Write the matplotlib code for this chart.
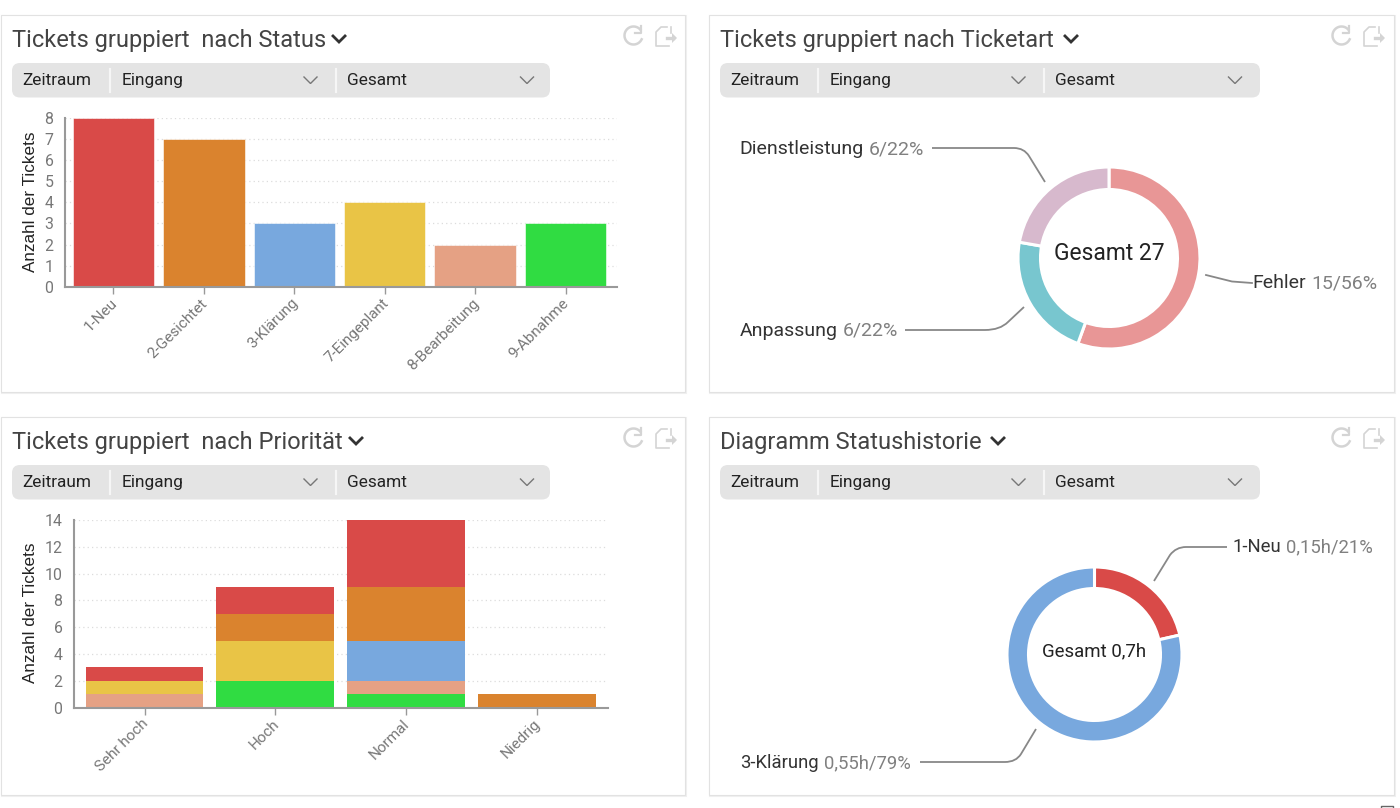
#!/usr/bin/env python3
"""Ticket dashboard: two bar charts and two donuts on white cards"""

import matplotlib
matplotlib.use('Agg')
import matplotlib.pyplot as plt
from matplotlib.patches import Rectangle, FancyBboxPatch, PathPatch
from matplotlib.path import Path
from matplotlib.transforms import ScaledTranslation
import numpy as np

plt.rcParams['font.family'] = ['Roboto', 'DejaVu Sans']

RED = '#D94A48'
ORANGE = '#DA832E'
BLUE = '#78A8DE'
YELLOW = '#E9C446'
PEACH = '#E5A184'
GREEN = '#30DC42'

# Status chart
status_labels = ['1-Neu', '2-Gesichtet', '3-Klärung', '7-Eingeplant', '8-Bearbeitung', '9-Abnahme']
status_values = [8, 7, 3, 4, 2, 3]
status_colors = [RED, ORANGE, BLUE, YELLOW, PEACH, GREEN]

# Priority chart, stacks from the bottom up
prio_labels = ['Sehr hoch', 'Hoch', 'Normal', 'Niedrig']
prio_green = [0, 2, 1, 0]
prio_peach = [1, 0, 1, 0]
prio_blue = [0, 0, 3, 0]
prio_yellow = [1, 3, 0, 0]
prio_orange = [0, 2, 4, 1]
prio_red = [1, 2, 5, 0]

# Donuts
art_values = [15, 6, 6]
art_colors = ['#E89696', '#78C6CF', '#D7B9CD']
history_values = [0.15, 0.55]
history_colors = [RED, BLUE]

W, H = 1400, 808
ICON = '#D4D4D4'
fig = plt.figure(figsize=(W / 100, H / 100), dpi=100, facecolor='white')

# overlay in pixel coordinates for the cards and texts
bg = fig.add_axes([0, 0, 1, 1], zorder=0)
bg.set_xlim(0, W)
bg.set_ylim(H, 0)
bg.axis('off')


def px_axes(left, top, right, bottom):
    return fig.add_axes([left / W, 1 - bottom / H, (right - left) / W, (bottom - top) / H],
                        zorder=1, facecolor='none')


def draw_icons(x, y):
    # refresh arrow
    t = np.radians(np.linspace(40, 335, 40))
    bg.plot(x + 10.5 + 9 * np.cos(t), y + 10.5 - 9 * np.sin(t), color=ICON, lw=1.8)
    bg.plot([x + 18, x + 18, x + 11.5], [y + 1, y + 8, y + 8], color=ICON, lw=1.6)
    # export page
    dx = x + 33
    bg.plot([dx + 11, dx + 5, dx, dx, dx + 13], [y + 2, y + 2, y + 7, y + 21, y + 21], color=ICON, lw=1.2)
    bg.plot([dx + 15, dx + 15], [y + 2, y + 8], color=ICON, lw=1.2)
    bg.plot([dx + 11, dx + 17], [y + 13, y + 13], color=ICON, lw=2.4)
    bg.fill([dx + 16, dx + 21, dx + 16], [y + 8, y + 13, y + 18], color=ICON, lw=0)


def chevron(x, y, half, drop, color, lw):
    bg.plot([x - half, x, x + half], [y - drop / 2, y + drop / 2, y - drop / 2], color=color, lw=lw,
            solid_capstyle='butt', solid_joinstyle='miter')


def draw_card(x0, y0, x1, y1, title, chevron_x, bar_width=538):
    bg.add_patch(Rectangle((x0 + 1, y0 + 1), x1 - x0, y1 - y0, fc='#E4E4E4', ec='#F0F0F0', lw=1.5))
    bg.add_patch(Rectangle((x0, y0), x1 - x0, y1 - y0, fc='white', ec='#E2E2E2', lw=0.8))
    bg.text(x0 + 11, y0 + 25, title, fontsize=17.0, color='#444444', va='center', ha='left')
    chevron(chevron_x, y0 + 23.5, 7, 7, '#333333', 2)
    draw_icons(x0 + 622, y0 + 10)
    # filter bar
    bar_y = y0 + 48
    bg.add_patch(FancyBboxPatch((x0 + 11, bar_y), bar_width, 34.5, boxstyle='round,pad=0,rounding_size=8',
                                fc='#E4E4E4', ec='none'))
    for sep in (109, 335):
        bg.plot([x0 + sep, x0 + sep], [bar_y + 6, bar_y + 29], color='#F6F6F6', lw=1.6)
    for label, tx in (('Zeitraum', 21), ('Eingang', 121), ('Gesamt', 346)):
        bg.text(x0 + tx, bar_y + 17.5, label, fontsize=12.4, color='#222222', va='center', ha='left')
    chevron(x0 + 309.5, bar_y + 17, 7, 7, '#777777', 1)
    chevron(x0 + 526, bar_y + 17, 7, 7, '#777777', 1)


def bar_axes(ax, labels, ymax, ystep, xlim):
    ax.set_xlim(*xlim)
    ax.set_ylim(0, ymax)
    ax.set_yticks(range(0, ymax + 1, ystep))
    ax.set_xticks(range(len(labels)))
    ax.set_xticklabels(labels, rotation=45, ha='right', va='top', rotation_mode='anchor',
                       fontsize=11, color='#777777')
    ax.tick_params(axis='y', length=0, pad=8, labelsize=11.4, labelcolor='#777777')
    ax.tick_params(axis='x', length=5, width=1, color='#999999', pad=1.5)
    # has to come after tick_params, which resets the label transform
    nudge = ScaledTranslation(-3.5 / 100, 0, fig.dpi_scale_trans)
    for label in ax.get_xticklabels():
        label.set_transform(label.get_transform() + nudge)
    ax.grid(axis='y', linestyle=(0, (1, 2.5)), color='#DCDCDC', linewidth=0.9)
    ax.set_axisbelow(True)
    for side in ('top', 'right'):
        ax.spines[side].set_visible(False)
    for side in ('left', 'bottom'):
        ax.spines[side].set_color('#999999')
        ax.spines[side].set_linewidth(1.5)


def leader(points):
    codes = [Path.MOVETO, Path.LINETO, Path.CURVE3, Path.CURVE3, Path.LINETO]
    bg.add_patch(PathPatch(Path(points, codes), fc='none', ec='#888888', lw=1.3, capstyle='butt'))


def pie_label(x, y, name, value, size=14):
    first = bg.text(x, y, name, fontsize=size, color='#333333', va='center', ha='left')
    box = first.get_window_extent(fig.canvas.get_renderer())
    bg.text(x + box.width + 5, y, value, fontsize=size, color='#808080', va='center', ha='left')


def donut(cx, cy, r_out, r_in, values, colors):
    side = r_out * 1.1
    ax = px_axes(cx - side, cy - side, cx + side, cy + side)
    ax.pie(values, colors=colors, startangle=90, counterclock=False, radius=r_out,
           wedgeprops=dict(width=r_out - r_in, edgecolor='white', linewidth=2.2))
    ax.set_xlim(-side, side)
    ax.set_ylim(-side, side)
    return ax


draw_card(1, 15, 685, 392, 'Tickets gruppiert  nach Status', 339)
draw_card(709, 15, 1394, 392, 'Tickets gruppiert nach Ticketart', 1071, bar_width=540)
draw_card(1, 417, 685, 795, 'Tickets gruppiert  nach Priorität', 356)
draw_card(709, 417, 1394, 795, 'Diagramm Statushistorie', 998, bar_width=540)

# top left, bars by status
ax1 = px_axes(64.5, 117.5, 616.5, 287)
ax1.bar(range(len(status_values)), status_values, width=0.9, color=status_colors, edgecolor='white', linewidth=0.4)
bar_axes(ax1, status_labels, 8, 1, (-0.542, 5.564))
bg.text(31, 202, 'Anzahl der Tickets', fontsize=12.3, family='Liberation Sans', color='#222222',
        rotation=90, ha='center', va='center')

# bottom left, stacked by priority
ax3 = px_axes(73.5, 520, 607.5, 707.5)
bottom = [0, 0, 0, 0]
for series, color in [(prio_green, GREEN), (prio_peach, PEACH), (prio_blue, BLUE),
                      (prio_yellow, YELLOW), (prio_orange, ORANGE), (prio_red, RED)]:
    ax3.bar(range(len(prio_labels)), series, width=0.9, bottom=bottom, color=color, edgecolor='none')
    bottom = [b + s for b, s in zip(bottom, series)]
bar_axes(ax3, prio_labels, 14, 2, (-0.543, 3.54))
bg.text(31, 613, 'Anzahl der Tickets', fontsize=12.3, family='Liberation Sans', color='#222222',
        rotation=90, ha='center', va='center')

# top right donut
donut(1109, 258, 91, 68.5, art_values, art_colors)
bg.text(1109, 253.5, 'Gesamt 27', fontsize=16.5, color='#222222', ha='center', va='center')
pie_label(739.5, 149, 'Dienstleistung', '6/22%')
pie_label(740, 330.5, 'Anpassung', '6/22%')
pie_label(1252.5, 283.5, 'Fehler', '15/56%')
leader([(932, 148), (1014, 148), (1024, 148), (1029, 156), (1045, 182)])
leader([(905, 330), (985, 330), (1000, 330), (1008, 322), (1024, 307)])
bg.plot([1206, 1218, 1232, 1252], [275, 278, 281.5, 283], color='#888888', lw=1.3)

# bottom right donut
donut(1094.5, 654.5, 87.5, 66, history_values, history_colors)
bg.text(1094, 651.5, 'Gesamt 0,7h', fontsize=13.4, color='#222222', ha='center', va='center')
pie_label(1232.5, 547.5, '1-Neu', '0,15h/21%', size=13.3)
pie_label(740, 763, '3-Klärung', '0,55h/79%', size=13.3)
leader([(1227, 547), (1186, 547), (1176, 547), (1170, 555), (1154, 581)])
leader([(920, 762), (1005, 762), (1016, 762), (1021, 754), (1036, 729)])

# cut-off corner of the next widget
bg.plot([1381, 1381, 1393, 1393], [808, 806, 806, 808], color='#666666', lw=1)

plt.savefig('out.png', dpi=100, facecolor='white')
plt.close()
